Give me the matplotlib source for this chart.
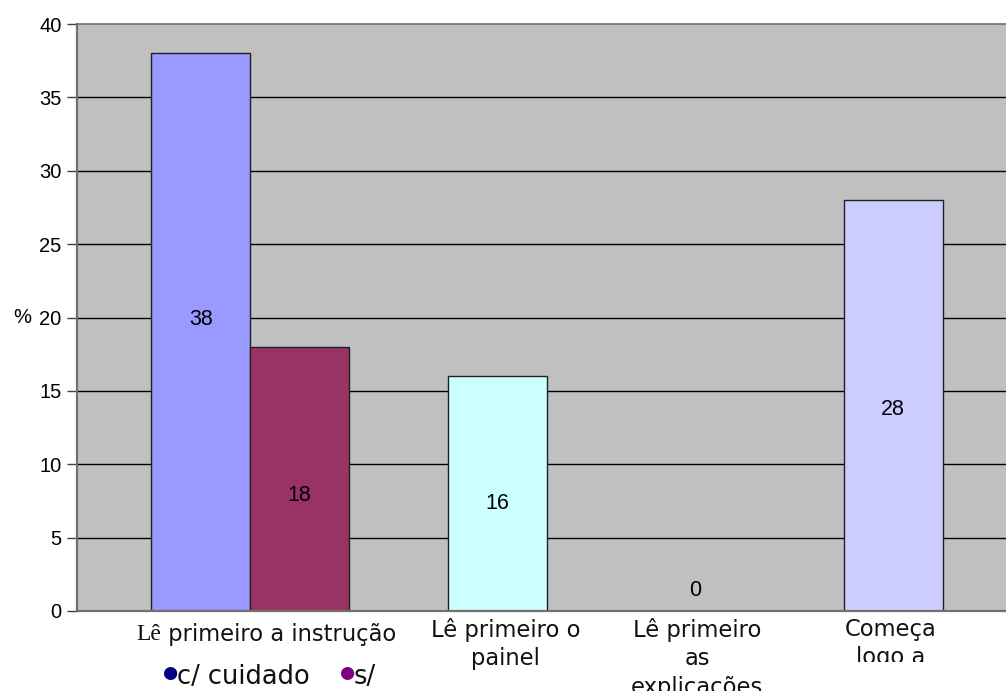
import matplotlib
matplotlib.use("Agg")
import matplotlib.pyplot as plt
from matplotlib.transforms import Bbox

# --- data -------------------------------------------------------------
categories = ["Lê primeiro a instrução", "Lê primeiro o\npainel",
              "Lê primeiro\nas\nexplicações", "Começa\nlogo a"]
bar_values = [38, 18, 16, 0, 28]
bar_colors = ["#9999FF", "#993366", "#CCFFFF", "#CCCCFF", "#CCCCFF"]
sub_labels = ["c/ cuidado", "s/"]
sub_colors = ["#000080", "#800080"]
y_ticks = [0, 5, 10, 15, 20, 25, 30, 35, 40]

# slot layout: first category holds two bars side by side
bar_left = [0, 1, 3, 5, 7]
cat_center = [1.0, 3.5, 5.5, 7.5]
# vertical nudges (pixels) of the value labels from the bar middles
label_nudge = [13, -17, -10, 0, -4]

W, H = 1006, 691
fig = plt.figure(figsize=(W / 100, H / 100), dpi=100)
ax = fig.add_axes([77 / W, 1 - 611 / H, 1 - 77 / W, (611 - 24) / H])
ax.set_facecolor("#C0C0C0")
ax.set_xlim(-0.75, 8.64)
ax.set_ylim(0, 40)

for yt in y_ticks[1:-1]:
    ax.axhline(yt, color="black", lw=1.0, zorder=1)

for left, v, c, dy in zip(bar_left, bar_values, bar_colors, label_nudge):
    if v > 0:
        ax.bar(left, v, width=1.0, align="edge", color=c,
               edgecolor="#202020", lw=1.0, zorder=2)
        ly = v / 2
    else:
        ly = 1.4
    ax.annotate(f"{v}", xy=(left + 0.5, ly), xytext=(0, dy),
                textcoords="offset pixels", ha="center", va="center",
                fontsize=15.5, family="Liberation Sans", zorder=3)

for s in ["left", "bottom", "top"]:
    ax.spines[s].set_color("#707070")
    ax.spines[s].set_linewidth(1.6)
ax.spines["top"].set_linewidth(1.2)
ax.spines["right"].set_visible(False)

ax.set_yticks(y_ticks)
ax.set_yticklabels([str(t) for t in y_ticks], family="Liberation Sans",
                   fontsize=14.5)
ax.tick_params(axis="y", length=7, width=1, color="#404040", pad=4)
ax.set_xticks([])

ax.annotate("%", xy=(0, 20), xycoords=("axes fraction", "data"),
            xytext=(-46, 0), textcoords="offset pixels", ha="right",
            va="center", fontsize=14.5, family="Liberation Sans",
            annotation_clip=False)

# category labels under the axis
lab_font = dict(family="DejaVu Sans", fontsize=16.3, color="#111111")
first = ax.annotate(" primeiro a instrução", xy=(cat_center[0], 0),
                    xytext=(146, -23), textcoords="offset pixels",
                    ha="right", va="center", annotation_clip=False,
                    **lab_font)
ax.annotate("Lê", xy=(0, 0.5), xycoords=first, ha="right", va="center",
            family="Liberation Serif", fontsize=17, color="#111111",
            annotation_clip=False)

x_nudge = [8, 2, -3]
clip_rows = [None, None, 662]   # last label's text box ends here (pixels from top)
for x, text, dx, clip in zip(cat_center[1:], categories[1:], x_nudge,
                             clip_rows):
    t = ax.annotate(text, xy=(x, 0), xytext=(dx, -7),
                    textcoords="offset pixels", ha="center", va="top",
                    linespacing=1.3, annotation_clip=False, **lab_font)
    if clip is not None:
        t.set_clip_box(Bbox([[0, H - clip], [W, H]]))
        t.set_clip_on(True)
    else:
        t.set_clip_on(False)

# bullet legend beneath the first category
bx = [170, 347]
for xpix, lbl, col in zip(bx, sub_labels, sub_colors):
    fig.text(xpix / W, 1 - 673 / H, "●", color=col, fontsize=12.5,
             ha="center", va="center", family="DejaVu Sans")
    fig.text((xpix + 7) / W, 1 - 677 / H, lbl, ha="left", va="center",
             family="DejaVu Sans", fontsize=18.5, color="#111111")

fig.savefig("out.png", dpi=100)
